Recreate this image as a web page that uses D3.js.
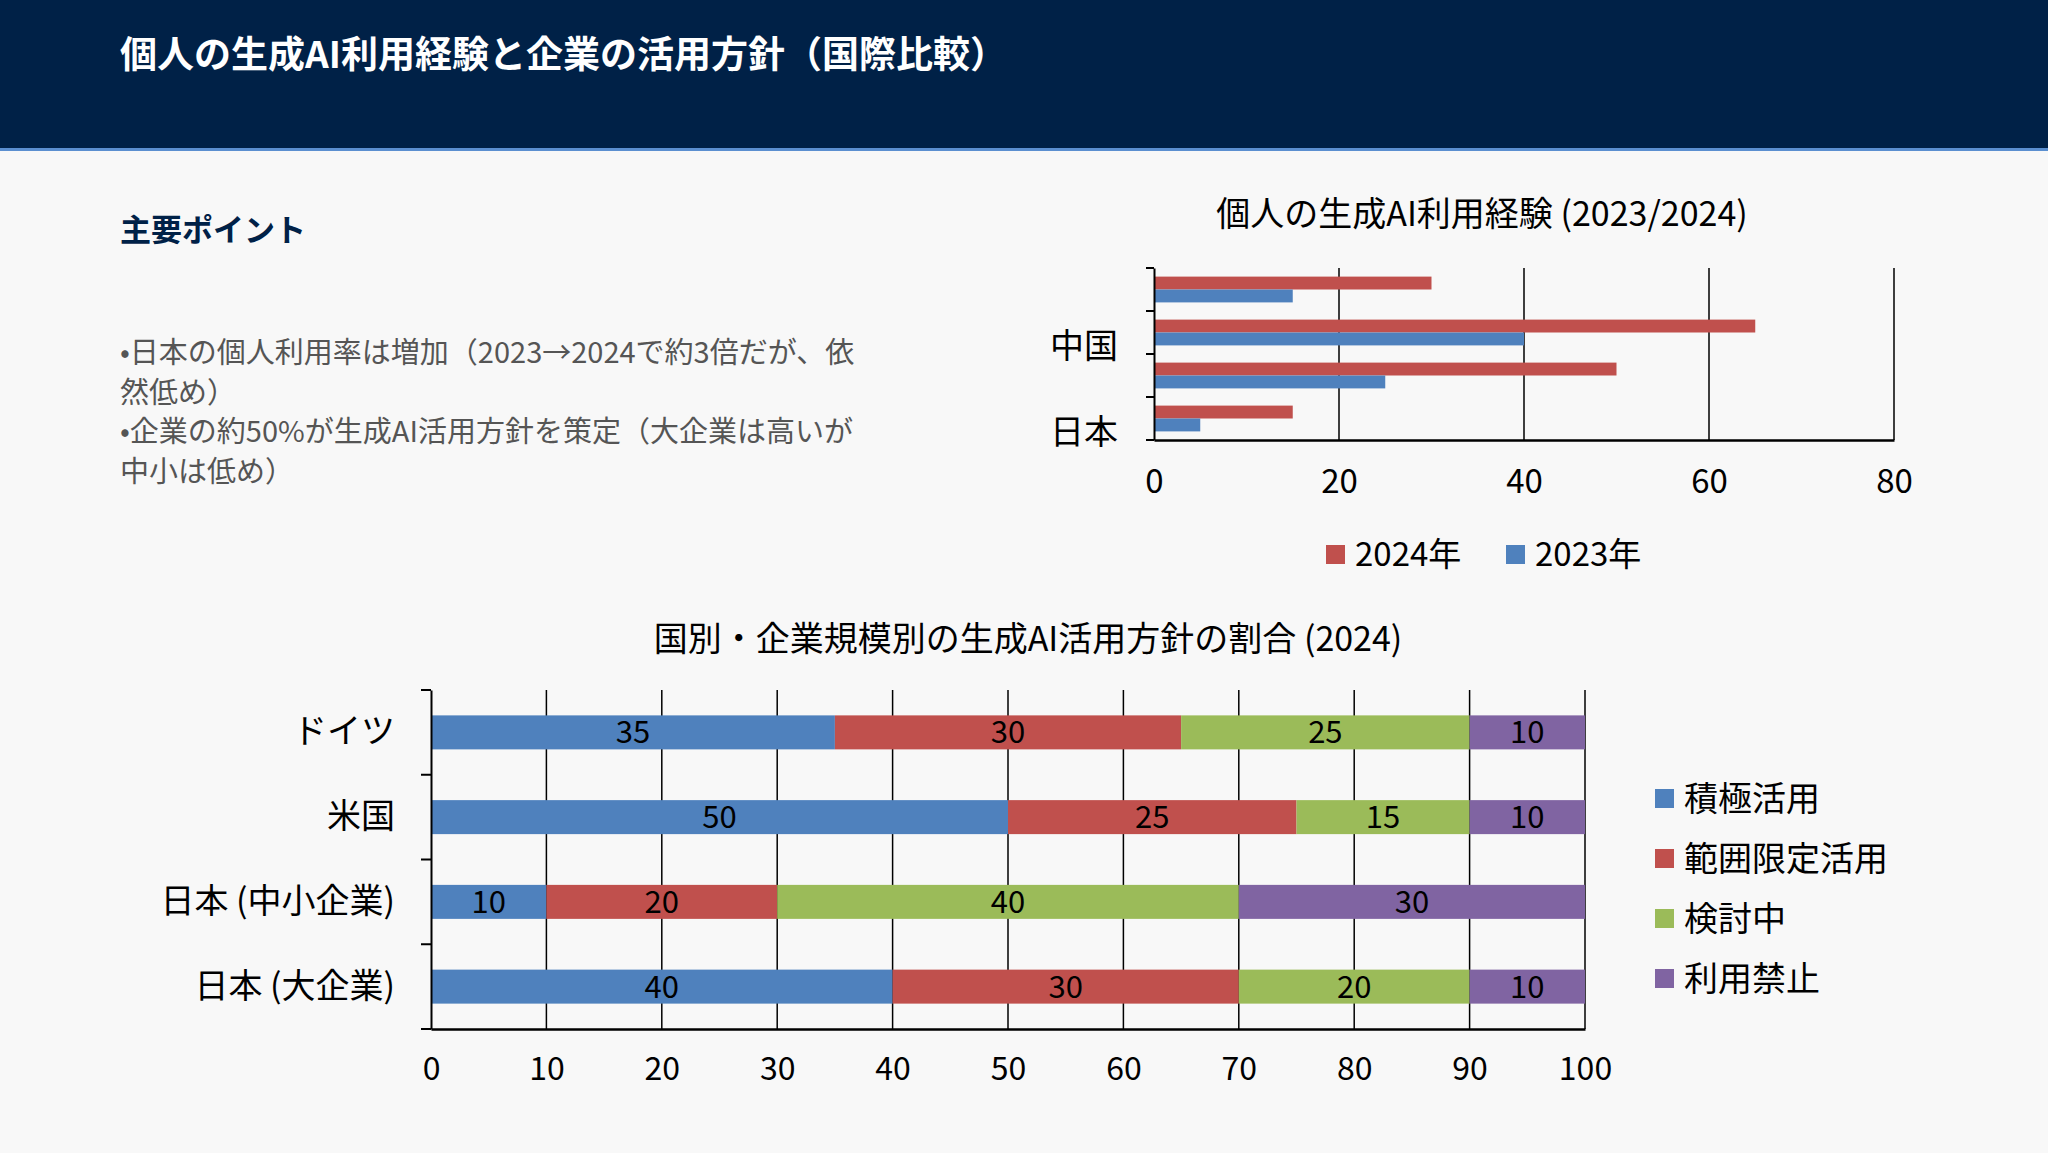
<!DOCTYPE html>
<html><head><meta charset="utf-8">
<script src="https://cdn.jsdelivr.net/npm/d3@7"></script>
<style>
body{margin:0;background:#f8f8f8;font-family:"Noto Sans CJK JP","Noto Sans",sans-serif;}
</style></head><body>
<svg id="c" width="2048" height="1153"></svg>
<script>
// data
const personalCats = ["日本", "米国", "中国", "ドイツ"];
const personal2024 = [15, 50, 65, 30];
const personal2023 = [5, 25, 40, 15];
const personalTicks = [0, 20, 40, 60, 80];

const policyCats = ["日本 (大企業)", "日本 (中小企業)", "米国", "ドイツ"];
const policyKeys = ["積極活用", "範囲限定活用", "検討中", "利用禁止"];
const policyActive = [40, 10, 50, 35];
const policyLimited = [30, 20, 25, 30];
const policyConsider = [20, 40, 15, 25];
const policyBanned = [10, 30, 10, 10];
const policyTicks = [0, 10, 20, 30, 40, 50, 60, 70, 80, 90, 100];

const bullets = [
  "•日本の個人利用率は増加（2023→2024で約3倍だが、依",
  "然低め）",
  "•企業の約50%が生成AI活用方針を策定（大企業は高いが",
  "中小は低め）"
];

const colors = ["#4f81bd", "#c0504d", "#9bbb59", "#8064a2"];
const svg = d3.select("#c");
const font = '"Noto Sans CJK JP","Noto Sans",sans-serif';

// header
svg.append("rect").attr("width", 2048).attr("height", 148).attr("fill", "#002147");
svg.append("rect").attr("y", 148).attr("width", 2048).attr("height", 3).attr("fill", "#5b8fd0");
svg.append("text").attr("x", 120).attr("y", 68).attr("fill", "#fff")
  .attr("font-size", 37).attr("font-weight", "bold").text("個人の生成AI利用経験と企業の活用方針（国際比較）");

svg.append("text").attr("x", 120).attr("y", 241).attr("fill", "#002147")
  .attr("font-size", 31).attr("font-weight", "bold").text("主要ポイント");
svg.selectAll("text.b").data(bullets).join("text").attr("class", "b")
  .attr("x", 120).attr("y", (d, i) => 363 + i * 39.5)
  .attr("fill", "#555").attr("font-size", 29).text(d => d);

// top chart
{
  const x = d3.scaleLinear().domain([0, 80]).range([1154, 1894]);
  const y = d3.scaleBand().domain(personalCats).range([440, 268]);
  const g = svg.append("g");
  g.append("text").attr("x", 1482).attr("y", 226).attr("text-anchor", "middle")
    .attr("font-size", 34).text("個人の生成AI利用経験 (2023/2024)");
  g.selectAll("line.gx").data(personalTicks.slice(1)).join("line")
    .attr("x1", d => x(d)).attr("x2", d => x(d)).attr("y1", 268).attr("y2", 440)
    .attr("stroke", "#000").attr("stroke-width", 1.5);
  const bh = y.bandwidth() * 0.3;
  g.selectAll("rect.r").data(personalCats).join("rect")
    .attr("x", x(0)).attr("y", d => y(d) + y.bandwidth() / 2 - bh)
    .attr("width", (d, i) => x(personal2024[i]) - x(0)).attr("height", bh).attr("fill", colors[1]);
  g.selectAll("rect.bl").data(personalCats).join("rect")
    .attr("x", x(0)).attr("y", d => y(d) + y.bandwidth() / 2)
    .attr("width", (d, i) => x(personal2023[i]) - x(0)).attr("height", bh).attr("fill", colors[0]);
  const xa = g.append("g").attr("transform", "translate(0,440)")
    .call(d3.axisBottom(x).tickValues(personalTicks).tickSize(0).tickPadding(30));
  xa.select(".domain").attr("stroke", "#000").attr("stroke-width", 2.5);
  xa.selectAll("text").attr("font-size", 33).attr("font-family", font).attr("fill", "#000");
  const ya = g.append("g").attr("transform", "translate(1154,0)")
    .call(d3.axisLeft(y).tickSize(0).tickPadding(36).tickFormat((d, i) => i % 2 === 0 ? d : ""));
  ya.select(".domain").attr("stroke", "#000").attr("stroke-width", 2);
  ya.selectAll("text").attr("font-size", 34).attr("font-family", font).attr("fill", "#000")
    .attr("dy", "0.75em");
  g.selectAll("line.yt").data(d3.range(5)).join("line")
    .attr("x1", 1146).attr("x2", 1154).attr("y1", d => 268 + d * 43).attr("y2", d => 268 + d * 43)
    .attr("stroke", "#000").attr("stroke-width", 2);
  const leg = [["2024年", colors[1], 1326], ["2023年", colors[0], 1506]];
  leg.forEach(([t, c, lx]) => {
    g.append("rect").attr("x", lx).attr("y", 545).attr("width", 19).attr("height", 19).attr("fill", c);
    g.append("text").attr("x", lx + 29).attr("y", 566).attr("font-size", 33).text(t);
  });
}

// bottom chart
{
  const x = d3.scaleLinear().domain([0, 100]).range([431, 1585]);
  const y = d3.scaleBand().domain(policyCats).range([1029, 690]);
  const g = svg.append("g");
  g.append("text").attr("x", 1028).attr("y", 651).attr("text-anchor", "middle")
    .attr("font-size", 34).text("国別・企業規模別の生成AI活用方針の割合 (2024)");
  g.selectAll("line.gx").data(policyTicks.slice(1)).join("line")
    .attr("x1", d => x(d)).attr("x2", d => x(d)).attr("y1", 690).attr("y2", 1029)
    .attr("stroke", "#000").attr("stroke-width", 1.5);
  const rows = policyCats.map((c, i) => ({
    cat: c, "積極活用": policyActive[i], "範囲限定活用": policyLimited[i],
    "検討中": policyConsider[i], "利用禁止": policyBanned[i]
  }));
  const stack = d3.stack().keys(policyKeys)(rows);
  const bh = 34;
  stack.forEach((s, k) => {
    const sg = g.append("g");
    sg.selectAll("rect").data(s).join("rect")
      .attr("x", d => x(d[0])).attr("y", d => y(d.data.cat) + y.bandwidth() / 2 - bh / 2)
      .attr("width", d => x(d[1]) - x(d[0])).attr("height", bh).attr("fill", colors[k]);
    sg.selectAll("text").data(s).join("text")
      .attr("x", d => (x(d[0]) + x(d[1])) / 2).attr("y", d => y(d.data.cat) + y.bandwidth() / 2 + 11)
      .attr("text-anchor", "middle").attr("font-size", 31).text(d => d[1] - d[0]);
  });
  const xa = g.append("g").attr("transform", "translate(0,1029)")
    .call(d3.axisBottom(x).tickValues(policyTicks).tickSize(0).tickPadding(28));
  xa.select(".domain").attr("stroke", "#000").attr("stroke-width", 2.5);
  xa.selectAll("text").attr("font-size", 32).attr("font-family", font).attr("fill", "#000");
  const ya = g.append("g").attr("transform", "translate(431,0)")
    .call(d3.axisLeft(y).tickSize(0).tickPadding(36));
  ya.select(".domain").attr("stroke", "#000").attr("stroke-width", 2);
  ya.selectAll("text").attr("font-size", 34).attr("font-family", font).attr("fill", "#000");
  g.selectAll("line.yt").data(d3.range(5)).join("line")
    .attr("x1", 421).attr("x2", 431).attr("y1", d => 690 + d * 84.75).attr("y2", d => 690 + d * 84.75)
    .attr("stroke", "#000").attr("stroke-width", 2);
  policyKeys.forEach((k, i) => {
    const ly = 799 + i * 60;
    g.append("rect").attr("x", 1655).attr("y", ly - 10).attr("width", 19).attr("height", 19).attr("fill", colors[i]);
    g.append("text").attr("x", 1684).attr("y", ly + 12).attr("font-size", 34).text(k);
  });
}
</script></body></html>
